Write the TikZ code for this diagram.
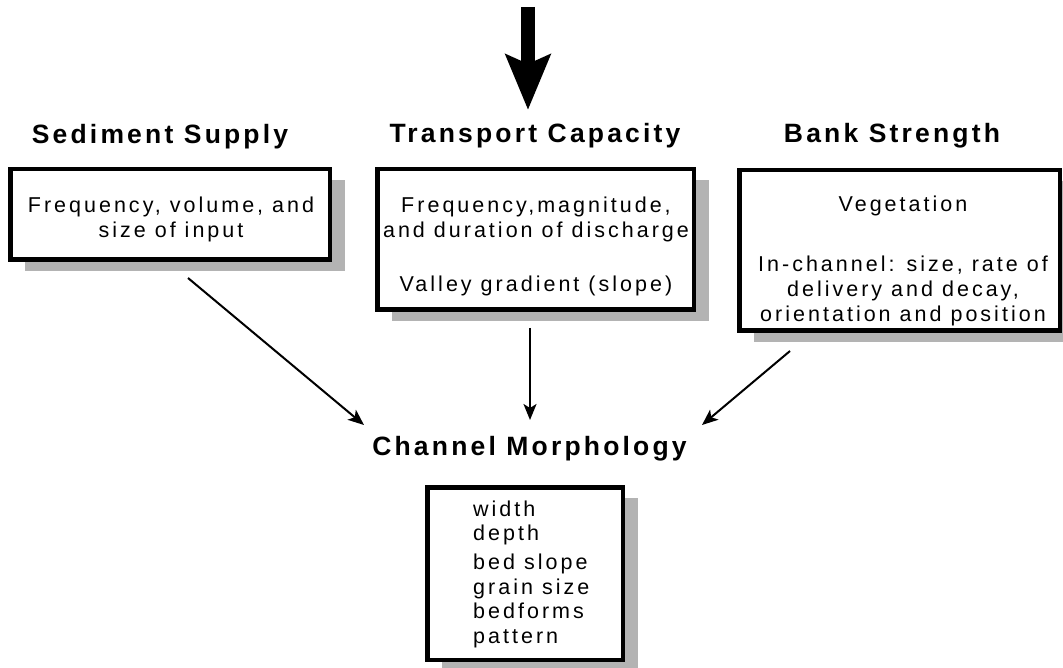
\documentclass[tikz,border=0pt]{standalone}
\usepackage{fontspec}
\setmainfont{Liberation Sans}
\newfontfamily\bodyfont{Liberation Sans}[LetterSpace=14]
\newfontfamily\headfont{Liberation Sans}[LetterSpace=12]
\usetikzlibrary{arrows.meta,shadows,calc}
\definecolor{shadowgray}{RGB}{179,179,179}
\begin{document}
\begin{tikzpicture}[x=1pt,y=-1pt,
  box/.style={draw, line width=4.5pt, fill=white, rectangle, inner sep=0pt,
    drop shadow={shadow xshift=15pt, shadow yshift=-11pt, fill=shadowgray, opacity=1}},
  head/.style={font=\headfont\bfseries\fontsize{26.5}{30}\selectfont, inner sep=0pt, anchor=base},
  body/.style={font=\bodyfont\fontsize{21.5}{25}\selectfont, inner sep=0pt, anchor=base, align=center},
  list/.style={font=\bodyfont\fontsize{21.5}{24.5}\selectfont, inner sep=0pt, anchor=base west, align=left},
  conn/.style={line width=2pt, -{Stealth[length=16pt,width=13pt,inset=4pt]}},
  big/.style={line width=14pt, -{Stealth[length=55pt,width=44pt,inset=9pt]}},
]
\useasboundingbox (0,0) rectangle (1063,668);

% boxes
\node[box, minimum width=319.5pt, minimum height=90.5pt] (bSed) at (170,214.5) {};
\node[box, minimum width=316.5pt, minimum height=140.5pt] (bTra) at (535.5,239.5) {};
\node[box, minimum width=320.5pt, minimum height=160.5pt] (bBank) at (899.5,250.5) {};
\node[box, minimum width=195.5pt, minimum height=172.5pt] (bChan) at (525,573.5) {};

% headings
\node[head] (hSed) at (160,144) {Sediment Supply};
\node[head] (hTra) at (535,143) {Transport Capacity};
\node[head] (hBank) at (892,143) {Bank Strength};
\node[head] (hChan) at (529.5,455) {Channel Morphology};

% box texts (anchor base = last line)
\node[body] (tSed) at (171,238) {Frequency, volume, and\\size of input};
\node[body] (tTra) at (536,292) {Frequency,magnitude,\\and duration of discharge\\[29pt]Valley gradient (slope)};
\node[body] (tBank) at (903,322) {Vegetation\\[36pt]In-channel: size, rate of\\delivery and decay,\\orientation and position};
\node[list] (tChan) at (473,643) {width\\depth\\[4.5pt]bed slope\\grain size\\bedforms\\pattern};

% connectors
\coordinate (bigtop) at (528,7);
\coordinate (bigtip) at (528,110);
\draw[big] (bigtop) -- (bigtip);

\coordinate (s1) at (188,278);
\coordinate (e1) at (364,425);
\coordinate (s2) at (530,328);
\coordinate (e2) at (530,420);
\coordinate (s3) at (790,351);
\coordinate (e3) at (702,425);
\draw[conn] (s1) -- (e1);
\draw[conn] (s2) -- (e2);
\draw[conn] (s3) -- (e3);
\end{tikzpicture}
\end{document}
